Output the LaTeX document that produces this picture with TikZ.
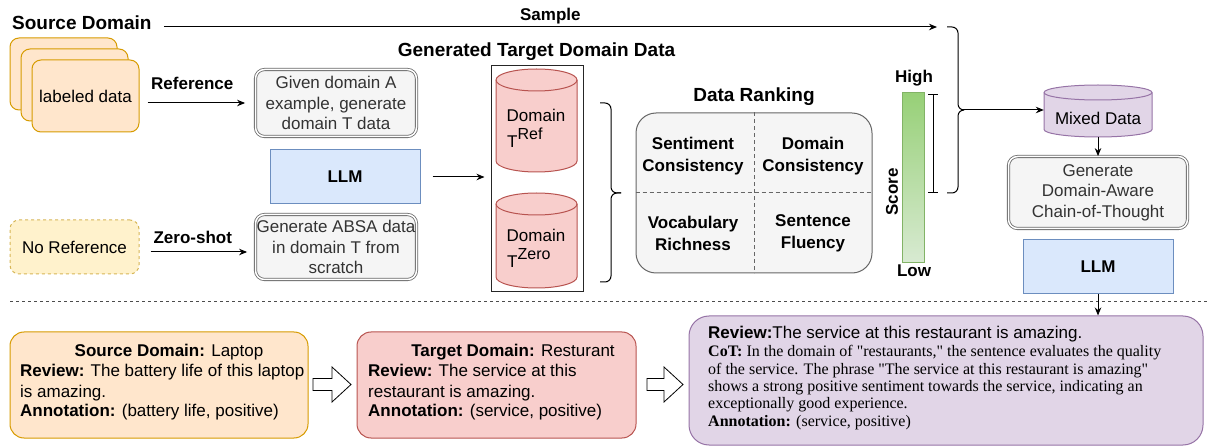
\documentclass[tikz,border=0pt]{standalone}
\usepackage{fontspec}
\setmainfont{Liberation Sans}
\newfontfamily\timesfont{Liberation Serif}
\usetikzlibrary{arrows.meta}

\definecolor{orangeF}{HTML}{FFE6CC}
\definecolor{orangeD}{HTML}{D79B00}
\definecolor{yellowF}{HTML}{FFF2CC}
\definecolor{yellowD}{HTML}{D6B656}
\definecolor{grayF}{HTML}{F5F5F5}
\definecolor{grayD}{HTML}{666666}
\definecolor{grayT}{HTML}{333333}
\definecolor{blueF}{HTML}{DAE8FC}
\definecolor{blueD}{HTML}{6C8EBF}
\definecolor{redF}{HTML}{F8CECC}
\definecolor{redD}{HTML}{B85450}
\definecolor{purpleF}{HTML}{E1D5E7}
\definecolor{purpleD}{HTML}{9673A6}
\definecolor{greenTop}{HTML}{97D077}
\definecolor{greenBot}{HTML}{D8EAD2}
\definecolor{greenD}{HTML}{82B366}

\newcommand\bodyfont{\fontsize{17}{20.5}\selectfont}
\newcommand\titlefont{\fontsize{19}{22}\selectfont\bfseries}

% vertical cylinder: centre x, half width, top, bottom, cap radius, fill, stroke
\newcommand\drawcyl[7]{%
  \filldraw[fill=#6, draw=#7, line width=1pt]
    ({#1-#2},{#3+#5}) -- ({#1-#2},{#4-#5})
    arc[start angle=180, end angle=360, x radius=#2pt, y radius=#5pt]
    -- ({#1+#2},{#3+#5})
    arc[start angle=0, end angle=180, x radius=#2pt, y radius=#5pt] -- cycle;
  \draw[draw=#7, line width=1pt] ({#1-#2},{#3+#5})
    arc[start angle=180, end angle=360, x radius=#2pt, y radius=#5pt];
}

% hollow block arrow: x start, x head, x tip, centre y
\newcommand\hollowarrow[4]{%
  \draw[line width=0.8pt, fill=white]
    (#1,{#4-6}) -- (#2,{#4-6}) -- (#2,{#4-17.5}) -- (#3,#4)
    -- (#2,{#4+17.5}) -- (#2,{#4+6}) -- (#1,{#4+6}) -- cycle;
}

\begin{document}
\begin{tikzpicture}[x=1pt, y=-1pt,
  lbl/.style={inner sep=0, font=\bodyfont\bfseries},
  title/.style={inner sep=0, font=\titlefont},
  txt/.style={inner sep=0, font=\bodyfont},
  box/.style={inner sep=0, line width=1pt, align=center, font=\bodyfont},
  databox/.style={box, draw=orangeD, fill=orangeF, rounded corners=9pt,
    minimum width=107pt, minimum height=72pt},
  prompt/.style={box, draw=grayD, double=white, double distance=1.5pt,
    line width=0.8pt, fill=grayF, text=grayT, rounded corners=9pt},
  llm/.style={box, draw=blueD, fill=blueF, font=\bodyfont\bfseries,
    minimum width=150pt, minimum height=54pt},
  arr/.style={-{Stealth[length=8pt,width=6.5pt]}, line width=1pt},
  brace/.style={line width=1pt, rounded corners=6pt},
  sep/.style={line width=1pt, draw=black!70, dash pattern=on 3pt off 3pt},
  grid/.style={line width=1pt, draw=grayD, dash pattern=on 4pt off 3pt},
  serifline/.style={inner sep=0, anchor=base west, font=\timesfont\fontsize{16}{18}\selectfont},
  sansline/.style={inner sep=0, anchor=base west, font=\bodyfont},
]
\useasboundingbox (0,0) rectangle (1208,446);

% ---------- source side ----------
\node[title, anchor=base west] (srctitle) at (12,30) {Source Domain};
\coordinate (sampleend) at (937,27);
\coordinate (samplestart) at (srctitle.east |- sampleend);
\draw[arr] ([xshift=12pt]samplestart) -- (sampleend)
  node[lbl, midway, anchor=base, yshift=6pt] (samplelbl) {Sample};

\node[databox] (ld3) at (63.5,74) {};
\node[databox] (ld2) at (74.5,85) {};
\node[databox] (ld1) at (85.5,96) {labeled data};

\node[box, dashed, draw=yellowD, fill=yellowF, rounded corners=9pt,
  minimum width=129pt, minimum height=54pt] (noref) at (74.5,247) {No Reference};

% ---------- prompts and generator ----------
\node[prompt, minimum width=161pt, minimum height=67pt] (p1) at (336,103)
  {Given domain A\\example, generate\\domain T data};
\node[llm] (llm1) at (345,177) {LLM};
\node[prompt, minimum width=161pt, minimum height=65pt] (p2) at (336,247)
  {Generate ABSA data\\in domain T from\\scratch};

\coordinate (refstart) at (ld1.east |- p1.west);
\draw[arr] ([xshift=8pt]refstart) -- ([xshift=-10pt]p1.west)
  node[lbl, midway, anchor=base, xshift=-4pt, yshift=13pt] (reflbl) {Reference};
\coordinate (zsstart) at ([yshift=-5pt]noref.east);
\coordinate (zsend) at (zsstart -| p2.west);
\draw[arr] ([xshift=11pt]zsstart) -- ([xshift=-8pt]zsend)
  node[lbl, midway, anchor=base, xshift=-6pt, yshift=8pt] (zslbl) {Zero-shot};

% ---------- generated target data ----------
\node[title, anchor=base] (gentitle) at (536.5,57) {Generated Target Domain Data};
\node[draw=black!85, line width=1pt, inner sep=0, minimum width=92pt,
  minimum height=226pt] (cont) at (537,179) {};
\draw[arr] ([xshift=12pt]llm1.east) -- ([xshift=-6pt]cont.west |- llm1.east);

\drawcyl{536.5}{40.5}{69}{172}{11}{redF}{redD}
\drawcyl{536.5}{40.5}{193}{288}{11}{redF}{redD}
\node[txt, anchor=base] (dref1) at (536,122) {Domain};
\node[txt, anchor=base west] (dref2) at (507,148) {T\raisebox{8pt}{\fontsize{16}{16}\selectfont Ref}};
\node[txt, anchor=base] (dzero1) at (536,242) {Domain};
\node[txt, anchor=base west] (dzero2) at (507,268) {T\raisebox{8pt}{\fontsize{16}{16}\selectfont Zero}};

\coordinate (br1) at (621,193);
\draw[brace] (600,103) -- (611,103) -- (611,193) -- (br1);
\draw[brace] (600,282) -- (611,282) -- (611,193) -- (br1);

% ---------- data ranking ----------
\node[title, anchor=base] (ranktitle) at (754,102) {Data Ranking};
\node[box, draw=grayD, fill=grayF, rounded corners=20pt,
  minimum width=236pt, minimum height=160pt] (rank) at (754,193) {};
\draw[grid] (rank.north) -- (rank.south);
\draw[grid] (rank.west) -- (rank.east);
\node[lbl, align=center, font=\fontsize{17}{22}\selectfont\bfseries] (r1) at (693,156) {Sentiment\\Consistency};
\node[lbl, align=center, font=\fontsize{17}{22}\selectfont\bfseries] (r2) at (813,156) {Domain\\Consistency};
\node[lbl, align=center, font=\fontsize{17}{22}\selectfont\bfseries] (r3) at (693,233) {Vocabulary\\Richness};
\node[lbl, align=center, font=\fontsize{17}{22}\selectfont\bfseries] (r4) at (813,233) {Sentence\\Fluency};

% ---------- score bar ----------
\shade[top color=greenTop, bottom color=greenBot] (902,93) rectangle (924,263);
\draw[greenD, line width=1pt] (902,93) rectangle (924,263);
\node[lbl, anchor=base] (high) at (914,83) {High};
\node[lbl, anchor=base] (low) at (914,277) {Low};
\node[lbl, rotate=90] (score) at (892,192) {Score};
\draw[line width=1pt] (928,95) -- (938,95) (933,95) -- (933,193) (928,193) -- (938,193);

\coordinate (bbtip) at (963,110);
\draw[brace] (947,27) -- (958,27) -- (958,110) -- (bbtip);
\draw[brace] (947,193) -- (958,193) -- (958,110) -- (bbtip);

% ---------- mixed data and CoT generation ----------
\drawcyl{1098}{54}{85}{137}{7.5}{purpleF}{purpleD}
\node[inner sep=0, minimum width=108pt, minimum height=52pt] (mixed) at (1098,111) {};
\node[txt] (mixedlbl) at (1098,118) {Mixed Data};
\draw[arr] (bbtip) -- (mixed.west |- bbtip);

\node[prompt, minimum width=179pt, minimum height=72pt] (cotp) at (1098,192.5)
  {Generate\\Domain-Aware\\Chain-of-Thought};
\draw[arr] (mixed.south) -- (cotp.north);
\node[llm] (llm2) at (1098,267) {LLM};

% ---------- separator ----------
\draw[sep] (10,302) -- (1208,302);

% ---------- worked example ----------
\node[box, draw=orangeD, fill=orangeF, rounded corners=14pt,
  minimum width=298pt, minimum height=106pt] (srcbox) at (159,385) {};
\node[box, draw=redD, fill=redF, rounded corners=14pt,
  minimum width=279pt, minimum height=106pt] (tgtbox) at (496.5,385) {};
\node[box, draw=purpleD, fill=purpleF, rounded corners=20pt,
  minimum width=514pt, minimum height=129pt] (cotbox) at (946,380.5) {};
\draw[arr] (llm2.south) -- (llm2.south |- cotbox.north);

\hollowarrow{313}{332}{351}{384.5}
\hollowarrow{647}{664}{683}{384.5}

\node[sansline, anchor=base] (s1) at (169,356) {\textbf{Source Domain:} Laptop};
\node[sansline] (s2) at (20,376.5) {\textbf{Review:} The battery life of this laptop};
\node[sansline] (s3) at (20,397) {is amazing.};
\node[sansline] (s4) at (20,417) {\textbf{Annotation:} (battery life, positive)};

\node[sansline, anchor=base] (t1) at (513,356) {\textbf{Target Domain:} Resturant};
\node[sansline] (t2) at (368,376.5) {\textbf{Review:} The service at this};
\node[sansline] (t3) at (368,397) {restaurant is amazing.};
\node[sansline] (t4) at (368,417) {\textbf{Annotation:} (service, positive)};

\node[sansline] (c1) at (708,339) {\textbf{Review:}The service at this restaurant is amazing.};
\node[serifline] (c2) at (708,356.5) {\textbf{CoT:} In the domain of "restaurants," the sentence evaluates the quality};
\node[serifline] (c3) at (708,374) {of the service. The phrase "The service at this restaurant is amazing"};
\node[serifline] (c4) at (708,391.5) {shows a strong positive sentiment towards the service, indicating an};
\node[serifline] (c5) at (708,409) {exceptionally good experience.};
\node[serifline] (c6) at (708,426.5) {\textbf{Annotation:} (service, positive)};
\end{tikzpicture}
\end{document}
